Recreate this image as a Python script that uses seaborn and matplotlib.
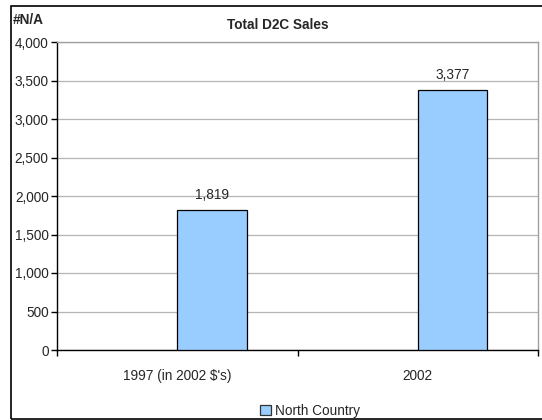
import matplotlib
matplotlib.use("Agg")
import matplotlib.pyplot as plt
from matplotlib.patches import Rectangle
import seaborn as sns
import pandas as pd

# Chart data
categories = ["1997 (in 2002 $'s)", "2002"]
series_names = ["#N/A", "North Country"]
na_values = [float("nan"), float("nan")]
north_country = [1819, 3377]
y_ticks = [0, 500, 1000, 1500, 2000, 2500, 3000, 3500, 4000]

df = pd.DataFrame({
    "category": categories * 2,
    "series": [series_names[0]] * 2 + [series_names[1]] * 2,
    "value": na_values + north_country,
})

sns.set_style("white")
plt.rcParams["font.family"] = ["Liberation Sans", "DejaVu Sans"]

fig = plt.figure(figsize=(5.42, 4.2), dpi=100)
ax = fig.add_axes([57 / 542, 1 - 350 / 420, (538 - 57) / 542, (350 - 42) / 420])

bar_color = "#99CCFF"
sns.barplot(data=df, x="category", y="value", hue="series", order=categories,
            hue_order=series_names, palette=[bar_color, bar_color], saturation=1,
            width=0.58, dodge=True, gap=0, edgecolor="black", linewidth=0.9,
            errorbar=None, legend=False, ax=ax, zorder=3)

ax.set_xlim(-0.5, 1.5)
ax.set_ylim(0, 4000)
ax.set_yticks(y_ticks)
ax.set_yticklabels([f"{v:,}" for v in y_ticks], fontsize=9.8)
ax.yaxis.grid(True, color="#b4b4b4", linewidth=0.9, zorder=0)
ax.xaxis.grid(False)
ax.set_xlabel("")
ax.set_ylabel("")

# category labels centred, tick marks at category boundaries
ax.set_xticks([0, 1])
ax.set_xticklabels(categories, fontsize=9.8)
ax.set_xticks([-0.5, 0.5, 1.5], minor=True)
ax.tick_params(axis="x", which="major", length=0, pad=14)
ax.tick_params(axis="x", which="minor", length=4, width=1, color="black", bottom=True)
ax.tick_params(axis="y", length=4, width=1, color="black", left=True, pad=2)

for side in ["top", "right"]:
    ax.spines[side].set_color("#a0a0a0")
    ax.spines[side].set_linewidth(1)
for side in ["left", "bottom"]:
    ax.spines[side].set_color("black")
    ax.spines[side].set_linewidth(1)

# value labels above the North Country bars
nc_bars = ax.containers[1]
for rect, val in zip(nc_bars, north_country):
    ax.annotate(f"{val:,}", (rect.get_x() + rect.get_width() / 2, val),
                xytext=(0, 6), textcoords="offset points",
                ha="center", va="bottom", fontsize=9.8)

fig.text(278 / 542, 1 - 25 / 420, "Total D2C Sales", ha="center", va="center",
         fontsize=9.8, fontweight="bold")
fig.text(13 / 542, 1 - 20 / 420, "#N/A", ha="left", va="center",
         fontsize=9.8, fontweight="bold")

# legend for the visible series
handle = Rectangle((0, 0), 1, 1, facecolor=bar_color, edgecolor="#333333", linewidth=0.9)
fig.legend([handle], ["North Country"], loc="center", bbox_to_anchor=(310 / 542, 1 - 411 / 420),
           frameon=False, fontsize=9.8, handlelength=0.75, handleheight=0.75,
           handletextpad=0.3, borderpad=0)

# chart frame
fig.add_artist(Rectangle((11 / 542, 1 / 420), 0.99, 1 - 6 / 420 - 1 / 420,
                         transform=fig.transFigure, fill=False,
                         edgecolor="black", linewidth=1.2, clip_on=False))

fig.savefig("out.png", dpi=100)
